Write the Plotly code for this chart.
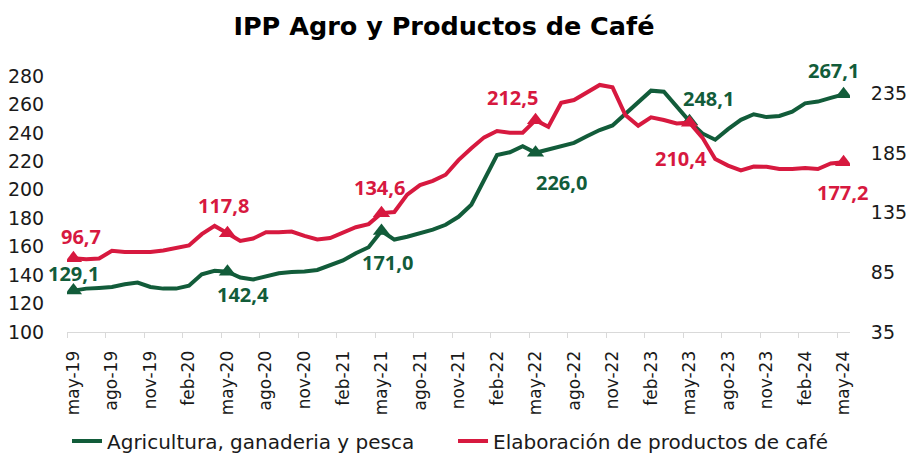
import plotly.graph_objects as go

# ---------------- data ----------------
months = [
    "may-19", "jun-19", "jul-19", "ago-19", "sep-19", "oct-19", "nov-19", "dic-19", "ene-20", "feb-20",
    "mar-20", "abr-20", "may-20", "jun-20", "jul-20", "ago-20", "sep-20", "oct-20", "nov-20", "dic-20",
    "ene-21", "feb-21", "mar-21", "abr-21", "may-21", "jun-21", "jul-21", "ago-21", "sep-21", "oct-21",
    "nov-21", "dic-21", "ene-22", "feb-22", "mar-22", "abr-22", "may-22", "jun-22", "jul-22", "ago-22",
    "sep-22", "oct-22", "nov-22", "dic-22", "ene-23", "feb-23", "mar-23", "abr-23", "may-23", "jun-23",
    "jul-23", "ago-23", "sep-23", "oct-23", "nov-23", "dic-23", "ene-24", "feb-24", "mar-24", "abr-24",
    "may-24",
]

agro = [
    129.1, 130.5, 131.0, 131.7, 133.6, 134.8, 131.7, 130.5, 130.5, 132.6,
    140.6, 143.0, 142.4, 138.3, 136.9, 139.0, 141.3, 142.2, 142.5, 143.6,
    147.0, 150.3, 155.4, 159.6, 171.0, 165.0, 167.0, 169.5, 172.0, 175.4,
    181.0, 189.5, 207.5, 224.4, 226.4, 230.7, 226.0, 228.2, 230.4, 233.0,
    237.6, 242.0, 245.2, 253.3, 260.8, 269.7, 269.0, 258.4, 248.1, 239.6,
    235.2, 242.6, 249.2, 253.1, 251.1, 251.9, 254.9, 260.8, 262.0, 264.6,
    267.1,
]

cafe = [
    96.7, 96.0, 96.6, 103.0, 102.1, 102.1, 102.1, 103.3, 105.0, 107.5,
    117.0, 123.9, 117.8, 111.3, 113.3, 118.6, 118.5, 119.2, 115.5, 112.6,
    113.7, 118.6, 122.8, 125.4, 134.6, 135.5, 150.1, 158.1, 161.7, 166.8,
    179.0, 188.9, 198.1, 203.4, 202.0, 202.0, 212.5, 207.0, 227.1, 229.4,
    235.8, 242.0, 240.0, 216.8, 207.8, 214.9, 212.6, 209.8, 210.4, 197.9,
    180.0, 174.4, 170.4, 173.7, 173.4, 171.6, 171.6, 172.5, 171.6, 176.2,
    177.2,
]

series_names = ["Agricultura, ganaderia y pesca", "Elaboración de productos de café"]
title_text = "IPP Agro y Productos de Café"

label_idx = [0, 12, 24, 36, 48, 60]
left_ticks = [100, 120, 140, 160, 180, 200, 220, 240, 260, 280]
right_ticks = [35, 85, 135, 185, 235]

# label offsets (pixels) for the data labels
agro_off = [(0, 17), (16, -23), (6, -31), (26, -30), (19, 23), (-10, 24)]
cafe_off = [(8, 22), (-4, 28), (-2, 26), (-23, 23), (-9, -36), (-1, -30)]

GREEN = "#125c3a"
RED = "#d7193f"
AX = "#d9d9d9"
TXT = "#1a1a1a"

x = list(range(len(months)))
tick_pos = x[::3]
tick_txt = months[::3]
bound_pos = [p - 0.5 for p in tick_pos]

fig = go.Figure()

fig.add_trace(go.Scatter(x=x, y=agro, mode="lines", name=series_names[0],
                         line=dict(color=GREEN, width=4), yaxis="y", legend="legend"))
fig.add_trace(go.Scatter(x=x, y=cafe, mode="lines", name=series_names[1],
                         line=dict(color=RED, width=4), yaxis="y2", legend="legend2"))
fig.add_trace(go.Scatter(x=label_idx, y=[agro[i] for i in label_idx], mode="markers",
                         marker=dict(symbol="triangle-up", size=15, color=GREEN),
                         showlegend=False, yaxis="y", hoverinfo="skip"))
fig.add_trace(go.Scatter(x=label_idx, y=[cafe[i] for i in label_idx], mode="markers",
                         marker=dict(symbol="triangle-up", size=15, color=RED),
                         showlegend=False, yaxis="y2", hoverinfo="skip"))

def fmt(v):
    return f"{v:.1f}".replace(".", ",")

ann = []
for k, i in enumerate(label_idx):
    dx, dy = agro_off[k]
    ann.append(dict(x=i, y=agro[i], xref="x", yref="y", text="<b>" + fmt(agro[i]) + "</b>",
                    showarrow=False, xshift=dx, yshift=dy,
                    font=dict(family="Open Sans", size=20, color=GREEN)))
    dx, dy = cafe_off[k]
    ann.append(dict(x=i, y=cafe[i], xref="x", yref="y2", text="<b>" + fmt(cafe[i]) + "</b>",
                    showarrow=False, xshift=dx, yshift=dy,
                    font=dict(family="Open Sans", size=20, color=RED)))

leg_common = dict(orientation="h", xanchor="left", y=-0.35, yanchor="top",
                  font=dict(family="DejaVu Sans", size=20, color=TXT),
                  bgcolor="rgba(0,0,0,0)", itemwidth=30)

fig.update_layout(
    width=906, height=455,
    margin=dict(l=67, r=56, t=76, b=123, autoexpand=False),
    paper_bgcolor="white", plot_bgcolor="white",
    title=dict(text="<b>" + title_text + "</b>", x=0.49, xanchor="center", y=0.943, yanchor="middle",
               font=dict(family="DejaVu Sans", size=25.5, color="#000000")),
    font=dict(family="DejaVu Sans", color=TXT),
    xaxis=dict(range=[-0.5, len(months) - 0.5], tickmode="array", tickvals=tick_pos, ticktext=tick_txt,
               tickangle=-90, ticks="outside", ticklen=11, tickcolor="rgba(0,0,0,0)",
               tickfont=dict(family="DejaVu Sans", size=17, color=TXT),
               showgrid=False, zeroline=False, showline=True, linecolor=AX, linewidth=1,
               minor=dict(tickvals=bound_pos, ticks="outside", ticklen=5, tickcolor=AX, tickwidth=1,
                          showgrid=False)),
    yaxis=dict(range=[100, 280], tickmode="array", tickvals=left_ticks, showgrid=False, zeroline=False,
               showline=False, ticks="outside", ticklen=18, tickcolor="rgba(0,0,0,0)",
               tickfont=dict(family="DejaVu Sans", size=19, color=TXT)),
    yaxis2=dict(range=[35, 249.5], tickmode="array", tickvals=right_ticks, overlaying="y", side="right",
                showgrid=False, zeroline=False, showline=False, ticks="outside", ticklen=16,
                tickcolor="rgba(0,0,0,0)", tickfont=dict(family="DejaVu Sans", size=19, color=TXT)),
    legend=dict(x=0.0, **leg_common),
    legend2=dict(x=0.493, **leg_common),
    annotations=ann,
    showlegend=True,
)

fig.write_html("out.html", include_plotlyjs=True, config={"displayModeBar": False},
               post_script="document.body.style.margin='0';")
